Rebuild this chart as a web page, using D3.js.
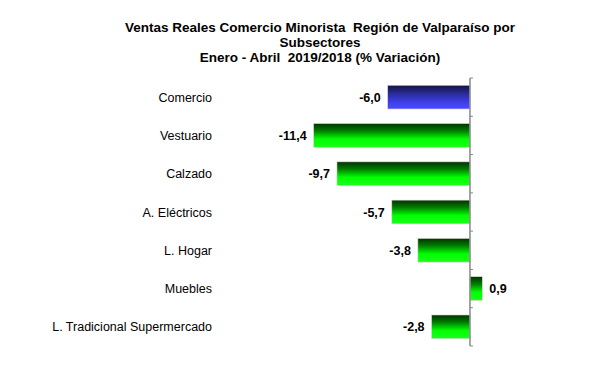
<!DOCTYPE html>
<html>
<head>
<meta charset="utf-8">
<script src="https://cdn.jsdelivr.net/npm/d3@7"></script>
<style>
  body { margin: 0; background: #fff; }
  text { font-family: "Liberation Sans", Arial, sans-serif; white-space: pre; }
</style>
</head>
<body>
<div id="chart"></div>
<script>
// data
var categories = ["Comercio", "Vestuario", "Calzado", "A. Eléctricos", "L. Hogar", "Muebles", "L. Tradicional Supermercado"];
var values = [-6.0, -11.4, -9.7, -5.7, -3.8, 0.9, -2.8];
var titleLines = ["Ventas Reales Comercio Minorista  Región de Valparaíso por", "Subsectores", "Enero - Abril  2019/2018 (% Variación)"];

var w = 603, h = 366;

var svg = d3.select("#chart").append("svg")
  .attr("width", w)
  .attr("height", h);

var defs = svg.append("defs");
var g1 = defs.append("linearGradient").attr("id", "gradGreen")
  .attr("x1", 0).attr("y1", 0).attr("x2", 0).attr("y2", 1);
g1.append("stop").attr("offset", "0%").attr("stop-color", "#003300");
g1.append("stop").attr("offset", "30%").attr("stop-color", "#007a00");
g1.append("stop").attr("offset", "65%").attr("stop-color", "#00ff00");
g1.append("stop").attr("offset", "100%").attr("stop-color", "#1aff1a");

var g2 = defs.append("linearGradient").attr("id", "gradBlue")
  .attr("x1", 0).attr("y1", 0).attr("x2", 0).attr("y2", 1);
g2.append("stop").attr("offset", "0%").attr("stop-color", "#14143c");
g2.append("stop").attr("offset", "35%").attr("stop-color", "#2a2a9a");
g2.append("stop").attr("offset", "75%").attr("stop-color", "#4040f0");
g2.append("stop").attr("offset", "100%").attr("stop-color", "#4a4aff");

// title
svg.append("g").selectAll("text")
  .data(titleLines)
  .enter().append("text")
  .attr("x", 320)
  .attr("y", function(d, i) { return 32 + i * 15; })
  .attr("text-anchor", "middle")
  .attr("font-size", "13.5px")
  .attr("font-weight", "bold")
  .text(function(d) { return d; });

var xScale = d3.scaleLinear()
  .domain([-12, 2])
  .range([305.4, 497.4]);

var yScale = d3.scaleBand()
  .domain(categories)
  .range([78, 346])
  .paddingInner(0.38)
  .paddingOuter(0.19);

var step = yScale.step();
var x0 = xScale(0);

// bars
svg.selectAll("rect.bar")
  .data(values)
  .enter().append("rect")
  .attr("class", "bar")
  .attr("x", function(d) { return Math.min(xScale(d), x0); })
  .attr("y", function(d, i) { return yScale(categories[i]); })
  .attr("width", function(d) { return Math.abs(xScale(d) - x0); })
  .attr("height", yScale.bandwidth())
  .attr("fill", function(d, i) { return i === 0 ? "url(#gradBlue)" : "url(#gradGreen)"; })
  .attr("stroke", "#d8d8d8")
  .attr("stroke-width", 0.6);

// value labels (hyphen minus, comma decimal)
var fmt = function(d) { return d.toFixed(1).replace(".", ","); };
svg.selectAll("text.val")
  .data(values)
  .enter().append("text")
  .attr("class", "val")
  .attr("x", function(d) { return d < 0 ? xScale(d) - 7 : xScale(d) + 7; })
  .attr("y", function(d, i) { return yScale(categories[i]) + yScale.bandwidth() / 2 + 4.5; })
  .attr("text-anchor", function(d) { return d < 0 ? "end" : "start"; })
  .attr("font-size", "12.5px")
  .attr("font-weight", "bold")
  .text(fmt);

// category labels
svg.selectAll("text.cat")
  .data(categories)
  .enter().append("text")
  .attr("class", "cat")
  .attr("x", 212)
  .attr("y", function(d) { return yScale(d) + yScale.bandwidth() / 2 + 4.5; })
  .attr("text-anchor", "end")
  .attr("font-size", "12.5px")
  .text(function(d) { return d; });

// vertical axis at zero with ticks between categories
var axis = svg.append("g");
axis.append("line")
  .attr("x1", x0).attr("x2", x0)
  .attr("y1", 78).attr("y2", 346)
  .attr("stroke", "#888").attr("stroke-width", 1.5);
axis.selectAll("line.tick")
  .data(d3.range(categories.length + 1))
  .enter().append("line")
  .attr("class", "tick")
  .attr("x1", x0).attr("x2", x0 + 3)
  .attr("y1", function(i) { return 78 + i * step; })
  .attr("y2", function(i) { return 78 + i * step; })
  .attr("stroke", "#888").attr("stroke-width", 1);
</script>
</body>
</html>
